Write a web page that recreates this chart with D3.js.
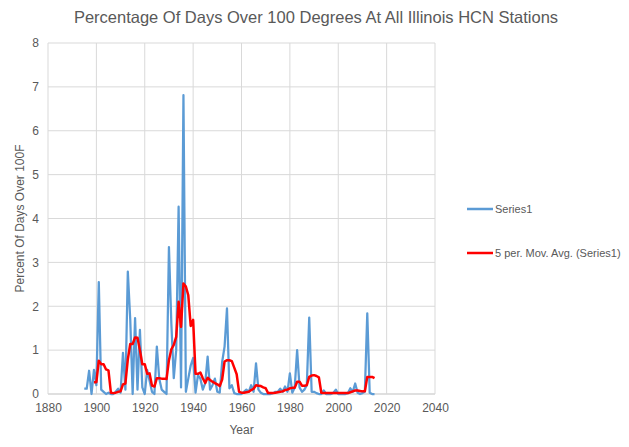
<!DOCTYPE html>
<html>
<head>
<meta charset="utf-8">
<script src="https://cdn.jsdelivr.net/npm/d3@7"></script>
<style>
  body { margin: 0; background: #fff; }
  text { font-family: "Liberation Sans", Arial, sans-serif; fill: #595959; }
</style>
</head>
<body>
<div id="chart"></div>
<script>
// annual values
const startYear = 1895;
const series1 = [
  0.12, 0.12, 0.53, 0.0, 0.55, 0.2, 2.55, 0.1, 0.05, 0.0,      // 1895-1904
  0.03, 0.0, 0.0, 0.05, 0.12, 0.03, 0.94, 0.1, 2.79, 1.7,      // 1905-1914
  0.0, 1.73, 0.1, 1.46, 0.15, 0.0, 0.55, 0.3, 0.05, 0.0,       // 1915-1924
  1.08, 0.35, 0.1, 0.05, 0.0, 3.35, 1.6, 0.36, 1.0, 4.27,      // 1925-1934
  0.15, 6.81, 0.05, 0.35, 0.65, 0.82, 0.03, 0.43, 0.35, 0.1,   // 1935-1944
  0.25, 0.85, 0.1, 0.2, 0.35, 0.05, 0.03, 0.73, 1.08, 1.95,    // 1945-1954
  0.13, 0.2, 0.02, 0.0, 0.0, 0.0, 0.05, 0.1, 0.05, 0.2,        // 1955-1964
  0.05, 0.7, 0.1, 0.03, 0.0, 0.0, 0.0, 0.0, 0.02, 0.05,        // 1965-1974
  0.05, 0.12, 0.05, 0.17, 0.05, 0.47, 0.03, 0.15, 1.0, 0.15,   // 1975-1984
  0.05, 0.1, 0.2, 1.74, 0.05, 0.05, 0.02, 0.0, 0.0, 0.08,      // 1985-1994
  0.0, 0.0, 0.0, 0.03, 0.1, 0.0, 0.0, 0.0, 0.0, 0.02,          // 1995-2004
  0.13, 0.05, 0.24, 0.03, 0.0, 0.02, 0.05, 1.84, 0.03, 0.0,    // 2005-2014
  0.0                                                          // 2015
];

const avgStartYear = 1899;
const movAvg = [
  0.27, 0.27, 0.76, 0.68, 0.68, 0.56, 0.54, 0.03, 0.02, 0.03,  // 1899-1908
  0.05, 0.06, 0.22, 0.24, 0.79, 1.14, 1.14, 1.29, 1.28, 1.0,   // 1909-1918
  0.68, 0.68, 0.46, 0.47, 0.19, 0.17, 0.36, 0.36, 0.35, 0.35,  // 1919-1928
  0.34, 0.77, 1.02, 1.12, 1.3, 2.1, 1.53, 2.52, 2.45, 2.25,    // 1929-1938
  1.55, 1.69, 0.46, 0.46, 0.49, 0.36, 0.25, 0.37, 0.32, 0.28,  // 1939-1948
  0.25, 0.22, 0.18, 0.33, 0.74, 0.77, 0.77, 0.75, 0.6, 0.45,   // 1949-1958
  0.05, 0.03, 0.03, 0.04, 0.05, 0.09, 0.12, 0.2, 0.19, 0.18,   // 1959-1968
  0.15, 0.13, 0.02, 0.02, 0.02, 0.03, 0.04, 0.05, 0.06, 0.09,  // 1969-1978
  0.1, 0.13, 0.14, 0.14, 0.28, 0.28, 0.19, 0.19, 0.2, 0.39,    // 1979-1988
  0.42, 0.43, 0.41, 0.38, 0.03, 0.02, 0.02, 0.02, 0.02, 0.02,  // 1989-1998
  0.02, 0.02, 0.02, 0.02, 0.02, 0.02, 0.04, 0.06, 0.08, 0.08,  // 1999-2008
  0.07, 0.06, 0.06, 0.39, 0.39, 0.39, 0.36                     // 2009-2015
];

const xTicks = [1880, 1900, 1920, 1940, 1960, 1980, 2000, 2020, 2040];
const yTicks = [0, 1, 2, 3, 4, 5, 6, 7, 8];
const legendLabels = ["Series1", "5 per. Mov. Avg. (Series1)"];

const width = 629, height = 447;
const margin = { top: 43, right: 194, bottom: 53, left: 48 };

const svg = d3.select("#chart").append("svg")
  .attr("width", width)
  .attr("height", height);

const x = d3.scaleLinear().domain([1880, 2040]).range([margin.left, width - margin.right]);
const y = d3.scaleLinear().domain([0, 8]).range([height - margin.bottom, margin.top]);

// gridlines
svg.append("g")
  .selectAll("line.h")
  .data(yTicks)
  .join("line")
  .attr("x1", x(1880)).attr("x2", x(2040))
  .attr("y1", d => y(d)).attr("y2", d => y(d))
  .attr("stroke", d => d === 0 ? "#bfbfbf" : "#d9d9d9")
  .attr("stroke-width", 1);

svg.append("g")
  .selectAll("line.v")
  .data(xTicks)
  .join("line")
  .attr("x1", d => x(d)).attr("x2", d => x(d))
  .attr("y1", y(0)).attr("y2", y(8))
  .attr("stroke", "#d9d9d9")
  .attr("stroke-width", 1);

// axes (labels only)
const xAxis = svg.append("g")
  .attr("transform", `translate(0,${y(0)})`)
  .call(d3.axisBottom(x).tickValues(xTicks).tickFormat(d3.format("d")).tickSize(0).tickPadding(9));
xAxis.select(".domain").remove();
xAxis.selectAll("text").style("font-size", "12px").attr("fill", "#595959");

const yAxis = svg.append("g")
  .attr("transform", `translate(${x(1880)},0)`)
  .call(d3.axisLeft(y).tickValues(yTicks).tickSize(0).tickPadding(9));
yAxis.select(".domain").remove();
yAxis.selectAll("text").style("font-size", "12px").attr("fill", "#595959");

// lines
const blueData = series1.map((v, i) => ({ year: startYear + i, value: v }));
const redData = movAvg.map((v, i) => ({ year: avgStartYear + i, value: v }));

const line = d3.line()
  .x(d => x(d.year))
  .y(d => y(d.value));

svg.append("path")
  .datum(blueData)
  .attr("fill", "none")
  .attr("stroke", "#5b9bd5")
  .attr("stroke-width", 2.25)
  .attr("stroke-linejoin", "round")
  .attr("d", line);

svg.append("path")
  .datum(redData)
  .attr("fill", "none")
  .attr("stroke", "#ff0000")
  .attr("stroke-width", 2.5)
  .attr("stroke-linejoin", "round")
  .attr("d", line);

// title
svg.append("text")
  .attr("x", 316)
  .attr("y", 23)
  .attr("text-anchor", "middle")
  .style("font-size", "16.5px")
  .text("Percentage Of Days Over 100 Degrees At All Illinois HCN Stations");

// axis titles
svg.append("text")
  .attr("x", x(1960))
  .attr("y", 434)
  .attr("text-anchor", "middle")
  .style("font-size", "12px")
  .text("Year");

svg.append("text")
  .attr("transform", `translate(24,${(y(0) + y(8)) / 2}) rotate(-90)`)
  .attr("text-anchor", "middle")
  .style("font-size", "12px")
  .text("Percent Of Days Over 100F");

// legend
const legendColors = ["#5b9bd5", "#ff0000"];
const legend = svg.append("g")
  .selectAll("g")
  .data(legendLabels)
  .join("g")
  .attr("transform", (d, i) => `translate(467,${209 + i * 44})`);

legend.append("line")
  .attr("x1", 0).attr("x2", 26)
  .attr("y1", 0).attr("y2", 0)
  .attr("stroke", (d, i) => legendColors[i])
  .attr("stroke-width", 2.5);

legend.append("text")
  .attr("x", 28)
  .attr("y", 4)
  .style("font-size", "11px")
  .text(d => d);
</script>
</body>
</html>
